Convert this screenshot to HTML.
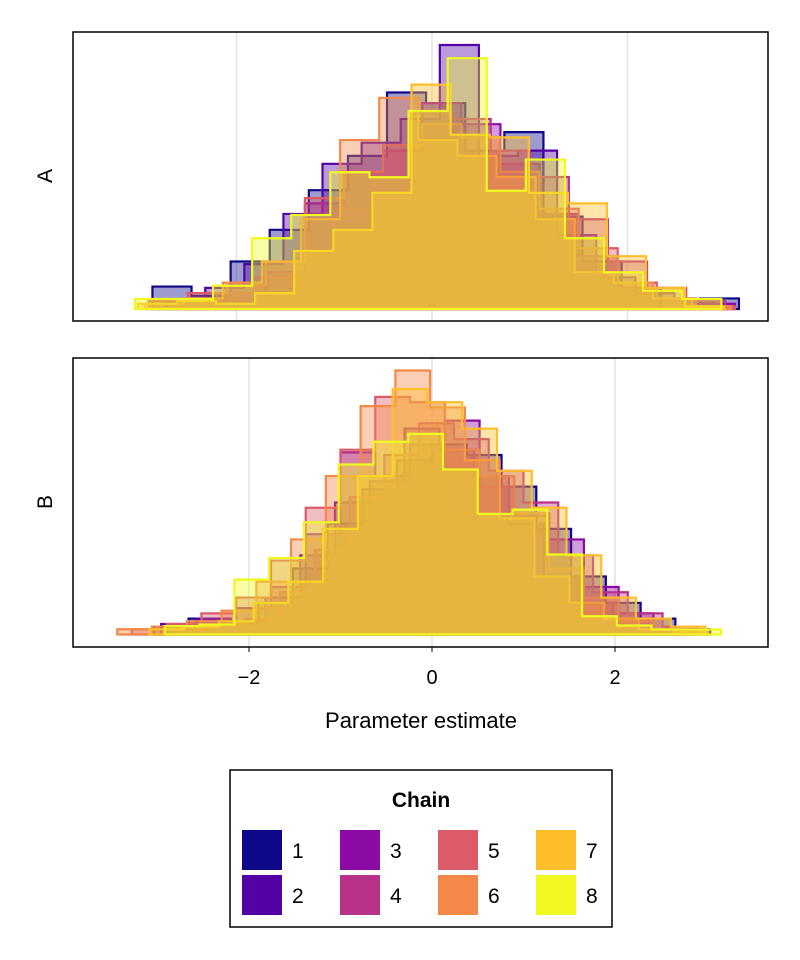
<!DOCTYPE html>
<html><head><meta charset="utf-8">
<style>
body{margin:0;background:#fff;width:800px;height:960px;overflow:hidden;font-family:"Liberation Sans",sans-serif;}
svg{display:block}
</style></head>
<body>
<svg id="chart" width="800" height="960">
 <rect x="73" y="32" width="695" height="289" fill="#fff" stroke="none"/>
 <rect x="73" y="358" width="695" height="289" fill="#fff" stroke="none"/>
 <g id="grid"></g>
 <g id="marks"></g>
 <rect x="73" y="32" width="695" height="289" fill="none" stroke="#000" stroke-width="1.5"/>
 <rect x="73" y="358" width="695" height="289" fill="none" stroke="#000" stroke-width="1.5"/>
 <text x="52" y="176" font-size="21" text-anchor="middle" transform="rotate(-90 52 176)">A</text>
 <text x="52" y="502" font-size="21" text-anchor="middle" transform="rotate(-90 52 502)">B</text>
 <g id="ticks"></g>
 <text x="421" y="728" font-size="22" text-anchor="middle">Parameter estimate</text>
 <g>
  <rect x="230" y="770" width="382" height="157" fill="#fff" stroke="#000" stroke-width="1.5"/>
  <text x="421" y="807" font-size="21" font-weight="bold" text-anchor="middle">Chain</text>
  <g id="legend-items"></g>
 </g>
</svg>
<script>
const colors = ["#0d0887","#5302a3","#8b0aa5","#b83289","#db5c68","#f48849","#febd2a","#f0f921"];
const chainNames = ["1","2","3","4","5","6","7","8"];
const xTicks = [-2, 0, 2];
const xTickLabels = ["−2","0","2"];
// Panel A: bin start, bin width, heights per chain
const startsA = [-2.86,-2.72,-2.9,-2.6,-2.9,-2.94,-3.01,-3.04];
const widthA = 0.4;
const countsA1 = [8.5,5,18,30,45,58,82,78,60,67,35,18,8,0,4];
const countsA2 = [3,8,17,36,55,63,72,100,58,60,28,12,6,3];
const countsA3 = [2,4,6,14,40,52,60,78,70,55,36,20,8,4,2];
const countsA4 = [3,6,12,22,38,50,74,72,60,50,34,18,8,3];
const countsA5 = [3,6,9,18,42,52,62,70,65,52,38,23,10,4,1];
const countsA6 = [2,4,10,18,34,64,80,64,58,50,34,14,10,4,1];
const countsA7 = [2,3,2,6,22,30,44,85,66,65,44,40,20,8,1];
const countsA8 = [3.8,3.8,8.8,26.8,35.6,51.8,49.9,75,95,44.8,56.6,26.8,13.9,6.9,3.8];
// Panel B
const startsB = [-3.04,-2.96,-2.9,-2.8,-3.28,-3.44,-3.09,-2.92];
const widthB = 0.38;
const countsB1 = [3,6,4,12,25,42,55,66,72,68,56,40,22,12,6,2];
const countsB2 = [4,6,5,14,30,50,58,78,70,60,42,22,12,6,2];
const countsB3 = [3,5,10,18,38,69,60,72,81,56,45,36,18,8,2];
const countsB4 = [2,4,6,16,32,52,68,80,74,62,50,30,16,8,3];
const countsB5 = [2,4,8,14,28,48,70,90,88,70,60,46,25,14,5,2];
const countsB6 = [2,3,5,9,20,36,60,86.5,100,86,66,44,22,12,6,2,1];
const countsB7 = [2,3,5,12,20,40,60,93,88,78,62,48,30,14,6,3];
const countsB8 = [3.2,3.8,20.8,29,42.5,64.4,73,76,62.5,45.7,47.3,30.3,6.9,3.4,1.9,1.9];

const countsA = [countsA1,countsA2,countsA3,countsA4,countsA5,countsA6,countsA7,countsA8];
const countsB = [countsB1,countsB2,countsB3,countsB4,countsB5,countsB6,countsB7,countsB8];

const NS = "http://www.w3.org/2000/svg";
const xA = v => 432 + v*97.75;
const xB = v => 432 + v*91.5;
const yA = v => 309 - v*2.64;
const yB = v => 634.5 - v*2.64;

const grid = document.getElementById('grid');
[-2,0,2].forEach(t=>{
  [[xA,32,321],[xB,358,647]].forEach(([fx,y0,y1],pi)=>{
    const l=document.createElementNS(NS,'line');
    l.setAttribute('x1',fx(t));l.setAttribute('x2',fx(t));
    l.setAttribute('y1',y0);l.setAttribute('y2',y1);
    l.setAttribute('stroke','#e3e3e3');l.setAttribute('stroke-width','1.5');
    
    
    grid.appendChild(l);
  });
});

const marks = document.getElementById('marks');
function drawPanel(counts, starts, w, fx, fy, panel){
  for(let c=0;c<8;c++){
    const arr=counts[c];
    let d="M"+fx(starts[c])+","+fy(0);
    arr.forEach((v,i)=>{
      const x0=fx(starts[c]+i*w), x1=fx(starts[c]+(i+1)*w);
      d+=" L"+x0+","+fy(v)+" L"+x1+","+fy(v);
    });
    d+=" L"+fx(starts[c]+arr.length*w)+","+fy(0)+" Z";
    const p=document.createElementNS(NS,'path');
    p.setAttribute('d',d);
    p.setAttribute('fill',colors[c]);
    p.setAttribute('fill-opacity','0.4');
    p.setAttribute('stroke',colors[c]);
    p.setAttribute('stroke-width','2.2');
    
    
    marks.appendChild(p);
  }
}
drawPanel(countsA,startsA,widthA,xA,yA,'a');
drawPanel(countsB,startsB,widthB,xB,yB,'b');

const ticks=document.getElementById('ticks');
xTicks.forEach((t,i)=>{
  const l=document.createElementNS(NS,'line');
  l.setAttribute('x1',xB(t));l.setAttribute('x2',xB(t));
  l.setAttribute('y1',647);l.setAttribute('y2',652);
  l.setAttribute('stroke','#000');
  
  
  ticks.appendChild(l);
  const tx=document.createElementNS(NS,'text');
  tx.setAttribute('x',xB(t));tx.setAttribute('y',684);
  tx.setAttribute('font-size','20');tx.setAttribute('text-anchor','middle');
  tx.textContent=xTickLabels[i];
  
  
  ticks.appendChild(tx);
});

const leg=document.getElementById('legend-items');
for(let c=0;c<8;c++){
  const col=Math.floor(c/2), row=c%2;
  const x=242+col*98, y=830+row*45;
  const r=document.createElementNS(NS,'rect');
  r.setAttribute('x',x);r.setAttribute('y',y);r.setAttribute('width',40);r.setAttribute('height',40);
  r.setAttribute('fill',colors[c]);
  
  
  leg.appendChild(r);
  const t=document.createElementNS(NS,'text');
  t.setAttribute('x',x+50);t.setAttribute('y',y+28);t.setAttribute('font-size','21');
  t.textContent=chainNames[c];
  
  
  leg.appendChild(t);
}
</script>
</body></html>
